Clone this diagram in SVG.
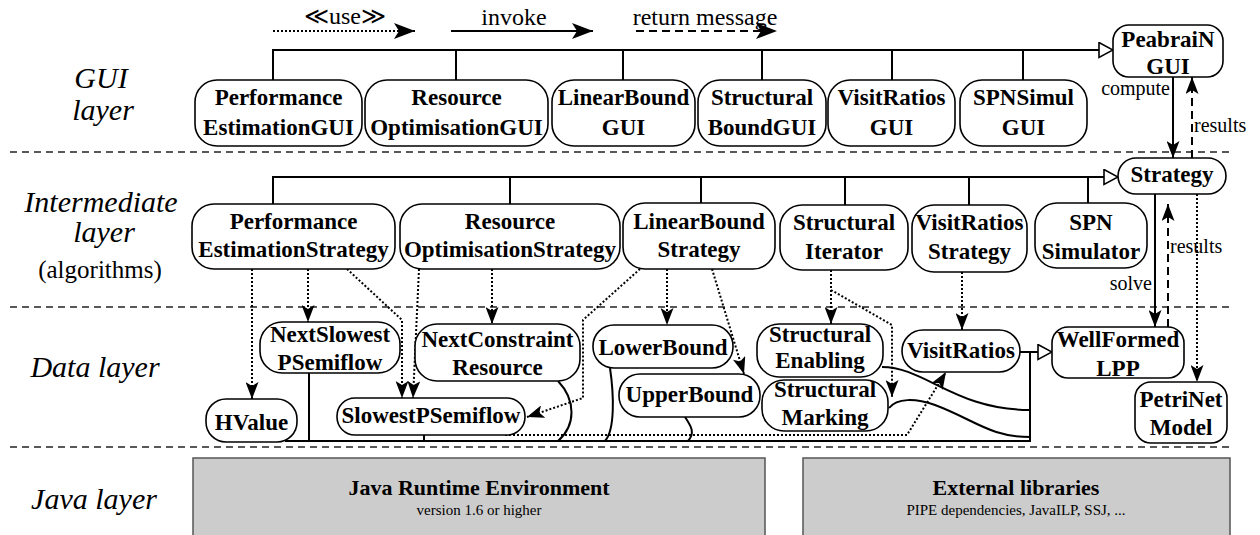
<svg xmlns="http://www.w3.org/2000/svg" width="1260" height="535" viewBox="0 0 1260 535">
<style>
.node rect{fill:#fff;stroke:#000;stroke-width:1.6}
.node text{font-family:'Liberation Serif','DejaVu Serif',serif;font-weight:bold;font-size:23px;text-anchor:middle;fill:#000}
.lbl{font-family:'Liberation Serif','DejaVu Serif',serif;font-style:italic;font-size:30px;text-anchor:middle;fill:#000}
.sub{font-family:'Liberation Serif','DejaVu Serif',serif;font-size:25px;text-anchor:middle;fill:#000}
.leg{font-family:'Liberation Serif','DejaVu Serif',serif;font-size:24px;text-anchor:middle;fill:#000}
.small{font-family:'Liberation Serif','DejaVu Serif',serif;font-size:20px;fill:#000}
.sep{stroke:#222;stroke-width:1.5;stroke-dasharray:7 5;fill:none}
.solid{stroke:#000;stroke-width:2;fill:none}
.dot{stroke:#000;stroke-width:2;stroke-dasharray:2 2;fill:none}
.dash{stroke:#000;stroke-width:2;stroke-dasharray:8 5;fill:none}
.java rect{fill:#cccccc;stroke:#555;stroke-width:1.5}
.java .t1{font-family:'Liberation Serif','DejaVu Serif',serif;font-weight:bold;font-size:22px;text-anchor:middle}
.java .t2{font-family:'Liberation Serif','DejaVu Serif',serif;font-size:15px;text-anchor:middle}
</style>
<defs>
<marker id="arr" viewBox="0 0 17 13" refX="17" refY="6.5" markerWidth="17" markerHeight="13" orient="auto" markerUnits="userSpaceOnUse"><path d="M0,0 L17,6.5 L0,13 L4,6.5 z" fill="#000"/></marker>
<marker id="arrL" viewBox="0 0 21 16" refX="21" refY="8" markerWidth="21" markerHeight="16" orient="auto" markerUnits="userSpaceOnUse"><path d="M0,0 L21,8 L0,16 L5,8 z" fill="#000"/></marker>
<marker id="tri" viewBox="0 0 16 17" refX="15" refY="8.5" markerWidth="16" markerHeight="17" orient="auto" markerUnits="userSpaceOnUse"><path d="M1,1 L15,8.5 L1,16 z" fill="#fff" stroke="#000" stroke-width="1.6"/></marker>
</defs>
<rect width="1260" height="535" fill="#fff"/>

<g id="layers">
<line class="sep" x1="10" y1="152" x2="1230" y2="152"/>
<line class="sep" x1="10" y1="307" x2="1230" y2="307"/>
<line class="sep" x1="10" y1="447" x2="1230" y2="447"/>
<text class="lbl" x="101" y="88">GUI</text>
<text class="lbl" x="103" y="120">layer</text>
<text class="lbl" x="101" y="212">Intermediate</text>
<text class="lbl" x="104" y="242">layer</text>
<text class="sub" x="100" y="278">(algorithms)</text>
<text class="lbl" x="95" y="377">Data layer</text>
<text class="lbl" x="94" y="509">Java layer</text>
</g>

<g id="legend">
<text class="leg" x="345" y="24">≪use≫</text>
<path class="dot" d="M273,31 H415" marker-end="url(#arrL)"/>
<text class="leg" x="514" y="25">invoke</text>
<path class="solid" d="M451,31 H593" marker-end="url(#arrL)"/>
<text class="leg" x="705" y="25">return message</text>
<path class="dash" d="M636,31 H777" marker-end="url(#arrL)"/>
</g>

<g id="connectors">
<path class="solid" d="M273,80 V50 H1113" marker-end="url(#tri)"/>
<path class="solid" d="M456,50 V80 M623,50 V80 M762,50 V80 M892,50 V80 M1023,50 V80"/>
<path class="solid" d="M273,204 V177 H1118" marker-end="url(#tri)"/>
<path class="solid" d="M510,177 V204 M701,177 V203 M845,177 V205 M969,177 V205 M1088,177 V203"/>
<path class="solid" d="M1173,77 V158" marker-end="url(#arr)"/>
<path class="dash" d="M1192,158 V77" marker-end="url(#arr)"/>
<text class="small" x="1170" y="95" text-anchor="end">compute</text>
<text class="small" x="1194" y="132">results</text>
<path class="solid" d="M1155,194 V327" marker-end="url(#arr)"/>
<path class="dash" d="M1168,327 V204" marker-end="url(#arr)"/>
<text class="small" x="1152" y="290" text-anchor="end">solve</text>
<text class="small" x="1170" y="253">results</text>
<path class="dot" d="M1197,194 V382" marker-end="url(#arr)"/>
<path class="dot" d="M252,269 V399" marker-end="url(#arr)"/>
<path class="dot" d="M308,269 V322" marker-end="url(#arr)"/>
<path class="dot" d="M347,269 L402,320 V398" marker-end="url(#arr)"/>
<path class="dot" d="M419,269 L413,398" marker-end="url(#arr)"/>
<path class="dot" d="M492,269 V324" marker-end="url(#arr)"/>
<path class="dot" d="M640,269 L583,320 V398 L527,417" marker-end="url(#arr)"/>
<path class="dot" d="M667,269 V325" marker-end="url(#arr)"/>
<path class="dot" d="M712,269 L744,374" marker-end="url(#arr)"/>
<path class="dot" d="M831,270 V324" marker-end="url(#arr)"/>
<path class="dot" d="M831,290 L892,325 V397" marker-end="url(#arr)"/>
<path class="dot" d="M962,272 V330" marker-end="url(#arr)"/>
<path class="dot" d="M505,435 H907 L946,372" marker-end="url(#arr)"/>
<path class="solid" d="M285,441 H1030 V352"/>
<path class="solid" d="M309,373 V441 M424,435 V441"/>
<path class="solid" d="M558,381 C576,400 576,425 558,441"/>
<path class="solid" d="M610,368 C614,395 615,430 605,441"/>
<path class="solid" d="M685,417 C690,425 696,432 688,441"/>
<path class="solid" d="M882,367 C925,367 955,410 1030,410"/>
<path class="solid" d="M889,408 C897,398 915,398 935,405 C975,420 990,437 1030,437"/>
<path class="solid" d="M1020,352 H1052" marker-end="url(#tri)"/>
</g>

<g id="gui-perf" class="node"><rect x="195" y="80" width="167" height="66" rx="22"/><text x="278.5" y="105">Performance</text><text x="278.5" y="135">EstimationGUI</text></g>
<g id="gui-res" class="node"><rect x="365" y="80" width="183" height="66" rx="22"/><text x="456.5" y="105">Resource</text><text x="456.5" y="135">OptimisationGUI</text></g>
<g id="gui-lin" class="node"><rect x="552" y="80" width="143" height="66" rx="22"/><text x="623.5" y="105">LinearBound</text><text x="623.5" y="135">GUI</text></g>
<g id="gui-struct" class="node"><rect x="698" y="80" width="128" height="66" rx="22"/><text x="762" y="105">Structural</text><text x="762" y="135">BoundGUI</text></g>
<g id="gui-visit" class="node"><rect x="828" y="80" width="127" height="66" rx="22"/><text x="891.5" y="105">VisitRatios</text><text x="891.5" y="135">GUI</text></g>
<g id="gui-spn" class="node"><rect x="960" y="80" width="127" height="66" rx="22"/><text x="1023.5" y="105">SPNSimul</text><text x="1023.5" y="135">GUI</text></g>
<g id="peabrain-gui" class="node"><rect x="1113" y="25" width="110" height="52" rx="16"/><text x="1168" y="47">PeabraiN</text><text x="1168" y="74">GUI</text></g>

<g id="int-perf" class="node"><rect x="192" y="204" width="203" height="65" rx="22"/><text x="293.5" y="229">Performance</text><text x="293.5" y="257">EstimationStrategy</text></g>
<g id="int-res" class="node"><rect x="400" y="204" width="220" height="65" rx="22"/><text x="510" y="229">Resource</text><text x="510" y="257">OptimisationStrategy</text></g>
<g id="int-lin" class="node"><rect x="623" y="203" width="152" height="66" rx="22"/><text x="699" y="229">LinearBound</text><text x="699" y="257">Strategy</text></g>
<g id="int-iter" class="node"><rect x="780" y="205" width="128" height="65" rx="22"/><text x="844" y="230">Structural</text><text x="844" y="259">Iterator</text></g>
<g id="int-visit" class="node"><rect x="912" y="205" width="115" height="67" rx="22"/><text x="969.5" y="230">VisitRatios</text><text x="969.5" y="259">Strategy</text></g>
<g id="int-spn" class="node"><rect x="1035" y="203" width="112" height="65" rx="22"/><text x="1091" y="230">SPN</text><text x="1091" y="259">Simulator</text></g>
<g id="strategy" class="node"><rect x="1118" y="158" width="108" height="36" rx="18"/><text x="1172" y="182">Strategy</text></g>

<g id="hvalue" class="node"><rect x="206" y="399" width="91" height="43" rx="20"/><text x="251.5" y="430">HValue</text></g>
<g id="next-slowest" class="node"><rect x="260" y="322" width="140" height="51" rx="22"/><text x="330" y="342">NextSlowest</text><text x="330" y="370">PSemiflow</text></g>
<g id="slowest" class="node"><rect x="337" y="398" width="188" height="37" rx="18"/><text x="431" y="423">SlowestPSemiflow</text></g>
<g id="next-constraint" class="node"><rect x="415" y="324" width="165" height="57" rx="22"/><text x="497.5" y="347">NextConstraint</text><text x="497.5" y="375">Resource</text></g>
<g id="lowerbound" class="node"><rect x="593" y="325" width="140" height="43" rx="21"/><text x="663" y="355">LowerBound</text></g>
<g id="upperbound" class="node"><rect x="619" y="374" width="141" height="43" rx="21"/><text x="689.5" y="402">UpperBound</text></g>
<g id="s-enabling" class="node"><rect x="757" y="324" width="126" height="53" rx="22"/><text x="820" y="342">Structural</text><text x="820" y="368">Enabling</text></g>
<g id="s-marking" class="node"><rect x="762" y="380" width="126" height="51" rx="22"/><text x="825" y="397">Structural</text><text x="825" y="425">Marking</text></g>
<g id="visitratios" class="node"><rect x="902" y="330" width="118" height="42" rx="21"/><text x="961" y="358">VisitRatios</text></g>
<g id="wellformed" class="node"><rect x="1052" y="327" width="132" height="51" rx="16"/><text x="1118" y="347">WellFormed</text><text x="1118" y="376">LPP</text></g>
<g id="petrinet" class="node"><rect x="1135" y="382" width="92" height="61" rx="16"/><text x="1181" y="407">PetriNet</text><text x="1181" y="435">Model</text></g>

<g id="jre" class="java"><rect x="193" y="458" width="572" height="90"/><text class="t1" x="479" y="495">Java Runtime Environment</text><text class="t2" x="479" y="515">version 1.6 or higher</text></g>
<g id="extlibs" class="java"><rect x="803" y="458" width="427" height="90"/><text class="t1" x="1016" y="495">External libraries</text><text class="t2" x="1016" y="515">PIPE dependencies, JavaILP, SSJ, ...</text></g>
</svg>
